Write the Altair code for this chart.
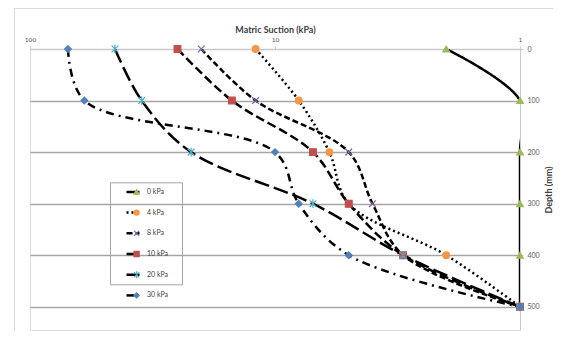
import altair as alt
import pandas as pd

# ---- data ----
depths = [0, 100, 200, 300, 400, 500]
series = ["0 kPa", "4 kPa", "8 kPa", "10 kPa", "20 kPa", "30 kPa"]
keys = ["k0", "k4", "k8", "k10", "k20", "k30"]
box_keys = ["b0", "b4", "b8", "b10", "b20", "b30"]
s0 = [2, 1, 1, 1, 1, 1]
s4 = [12, 8, 6, 5, 2, 1]
s8 = [20, 12, 5, 4, 3, 1]
s10 = [25, 15, 7, 5, 3, 1]
s20 = [45, 35, 22, 7, 3, 1]
s30 = [70, 60, 10, 8, 5, 1]
x_ticks = [1, 10, 100]
y_ticks = [0, 100, 200, 300, 400, 500]

# ---- styles ----
colors = ["#9BBB59", "#F79646", "#8064A2", "#C0504D", "#4BACC6", "#4F81BD"]
shapes = ["triangle-up", "circle", "M-1,-1L1,1M-1,1L1,-1", "square",
          "M-1,-1L1,1M-1,1L1,-1M0,-1.3L0,1.3", "diamond"]
dashes = [[1, 0], [2, 3], [6, 3], [9, 4], [15, 5], [8, 5, 2, 5]]
FONT = "Lato"

rows = []
for name, key, bkey, vals in zip(series, keys, box_keys, [s0, s4, s8, s10, s20, s30]):
    for d, v in zip(depths, vals):
        rows.append({"series": name, "key": key, "bkey": bkey, "depth": d, "suction": v})
df = pd.DataFrame(rows)

x_enc = alt.X(
    "suction:Q",
    scale=alt.Scale(type="log", domain=[1, 100], reverse=True),
    axis=alt.Axis(orient="top", values=x_ticks, format="d", title="Matric Suction (kPa)",
                  grid=False, domainColor="#c8c8c8", tickColor="#c8c8c8", tickSize=3,
                  labelFontSize=6.5, labelColor="#595959", labelPadding=4, labelFlush=False,
                  titleFontSize=9, titleFontWeight="bold", titleColor="#404040", titlePadding=2,
                  labelFont=FONT, titleFont=FONT),
)
y_enc = alt.Y(
    "depth:Q",
    scale=alt.Scale(domain=[0, 545], reverse=True, nice=False, zero=False),
    axis=alt.Axis(orient="right", values=y_ticks, title="Depth (mm)", grid=True,
                  gridColor={"condition": {"test": "datum.value === 0", "value": "#d0d0d0"},
                             "value": "#a6a6a6"},
                  gridWidth=1.3, domainColor="#c8c8c8", tickColor="#c8c8c8", tickSize=3,
                  labelFontSize=7, labelColor="#595959", labelPadding=4, labelFlush=False,
                  titleFontSize=9, titleFontWeight="bold", titleColor="#404040",
                  titleAngle=270, titleBaseline="top", titlePadding=5,
                  labelFont=FONT, titleFont=FONT),
)

LX, LY = 80, 133.3
line_leg = alt.Legend(title=None, orient="none", legendX=LX, legendY=LY, direction="vertical",
                      symbolType="stroke", symbolSize=169, symbolStrokeWidth=2.5,
                      symbolStrokeColor="black", symbolOffset=12.9, labelOffset=6,
                      labelFontSize=7, labelFont=FONT, labelColor="#404040",
                      padding=2.1, clipHeight=15, rowPadding=5.7, zindex=1)
pts_leg = alt.Legend(title=None, orient="none", legendX=LX, legendY=LY, direction="vertical",
                     symbolSize=28, symbolStrokeWidth=1.1, symbolOffset=21,
                     labelExpr="''", labelFontSize=7, padding=2.1, clipHeight=15,
                     rowPadding=5.7, zindex=2)
box_leg = alt.Legend(title=None, orient="none", legendX=LX, legendY=LY, direction="vertical",
                     symbolType="stroke", symbolSize=4356, symbolStrokeWidth=1,
                     symbolOpacity=0, labelExpr="''", labelOffset=0, labelFontSize=7,
                     padding=2.1, clipHeight=15, rowPadding=5.7,
                     strokeColor="#a6a6a6", zindex=0)

frame = alt.Chart(pd.DataFrame({"f": [0]})).mark_rect(
    fill="white", fillOpacity=0, stroke="#d9d9d9", strokeWidth=1
).encode(x=alt.value(-15.5), x2=alt.value(700), y=alt.value(-40.5), y2=alt.value(500))

boxlayer = alt.Chart(df).mark_point(size=1).encode(
    x=x_enc, y=y_enc,
    opacity=alt.Opacity("bkey:N", scale=alt.Scale(domain=box_keys, range=[0, 0, 0, 0, 0, 0]),
                        legend=box_leg),
)

lines = alt.Chart(df).mark_line(
    interpolate="catmull-rom", tension=0.5, color="black", strokeWidth=2.5, clip=True
).encode(
    x=x_enc, y=y_enc, order=alt.Order("depth:Q"),
    strokeDash=alt.StrokeDash("series:N", scale=alt.Scale(domain=series, range=dashes),
                              legend=line_leg),
)

points = alt.Chart(df).mark_point(filled=True, size=45, strokeWidth=1.2, opacity=1).encode(
    x=x_enc, y=y_enc,
    shape=alt.Shape("key:N", scale=alt.Scale(domain=keys, range=shapes), legend=pts_leg),
    color=alt.Color("key:N", scale=alt.Scale(domain=keys, range=colors), legend=pts_leg),
    stroke=alt.Stroke("key:N", scale=alt.Scale(domain=keys, range=colors), legend=pts_leg),
)

chart = alt.layer(frame, boxlayer, lines, points).properties(
    width=490, height=281,
    padding={"left": 22, "top": 41, "right": 33, "bottom": 1},
    autosize=alt.AutoSizeParams(type="none"),
).configure_view(stroke=None).configure(font=FONT)

chart.save("out.html", embed_options={"renderer": "svg", "actions": False})
